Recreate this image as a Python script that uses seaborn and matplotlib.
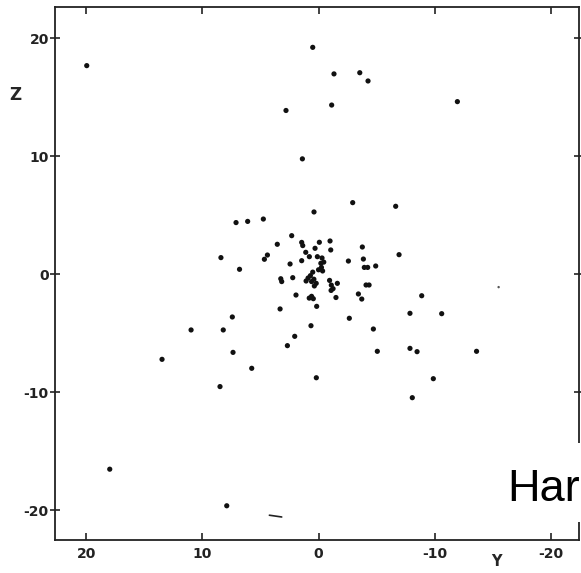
import pandas as pd
import matplotlib
matplotlib.use("Agg")
import matplotlib.pyplot as plt
from matplotlib.patches import Rectangle
import seaborn as sns

# point positions (Y horizontal, Z vertical)
y_vals = [19.95, 0.5, -1.33, -3.55, -4.26, 2.8, -1.13, -11.95, 1.39, -2.94,
          -6.64, 0.39, 7.1, 6.1, 4.75, 2.31, 3.55, 8.4, 4.4, 4.66,
          6.8, 1.45, 1.36, 1.1, 0.3, -0.07, -0.99, -1.05, 0.79, 1.45,
          2.45, 0.1, -0.3, -0.2, -0.45, -0.25, 0.0, -0.35, 0.5, 0.7,
          0.9, 0.6, 0.4, 1.07, 3.25, 3.17, 2.22, 0.36, 0.2, -0.95,
          -1.1, -1.25, -1.62, -2.57, -3.77, -3.86, -3.94, -4.23, -4.92, -6.93,
          -4.09, -4.35, 1.94, 0.8, 0.6, 0.45, 0.16, -1.08, -1.5, -3.43,
          -3.72, 3.31, -8.88, 0.65, -2.65, -7.87, -10.6, -4.72, 2.05, 2.68,
          -5.06, -7.87, -8.48, -13.6, 0.19, -9.88, -8.07, 7.42, 10.97, 8.2,
          7.36, 13.47, 5.75, 8.48, 17.97, 7.9]
z_vals = [17.7, 19.25, 17.0, 17.1, 16.4, 13.9, 14.36, 14.65, 9.8, 6.09,
          5.78, 5.3, 4.4, 4.5, 4.7, 3.29, 2.56, 1.43, 1.65, 1.29,
          0.44, 2.72, 2.45, 1.88, 2.22, 2.73, 2.84, 2.08, 1.51, 1.17,
          0.89, 1.51, 1.4, 0.95, 1.05, 0.6, 0.4, 0.3, 0.2, -0.1,
          -0.3, -0.6, -0.4, -0.55, -0.36, -0.6, -0.27, -0.97, -0.75, -0.5,
          -0.9, -1.2, -0.75, 1.14, 2.33, 1.31, 0.6, 0.6, 0.72, 1.68,
          -0.89, -0.89, -1.74, -2.0, -1.85, -2.05, -2.7, -1.35, -1.95, -1.65,
          -2.08, -2.92, -1.8, -4.34, -3.71, -3.29, -3.32, -4.62, -5.24, -6.03,
          -6.51, -6.26, -6.54, -6.51, -8.75, -8.83, -10.44, -3.6, -4.7, -4.7,
          -6.6, -7.19, -7.95, -9.5, -16.5, -19.6]

# faint specks of the scan
speck_y = [-15.5]
speck_z = [-1.07]
smudge_y = [4.23, 3.17]
smudge_z = [-20.4, -20.55]

ticks = [20, 10, 0, -10, -20]

df = pd.DataFrame({"Y": y_vals, "Z": z_vals})

sns.set_theme(style="ticks")
plt.rcParams["font.family"] = ["DejaVu Sans"]

fig = plt.figure(figsize=(5.81, 5.73), dpi=100)
ax = fig.add_axes([0.0947, 0.0576, 0.9019, 0.9302])

sns.scatterplot(data=df, x="Y", y="Z", ax=ax, color="#111111", s=14,
                edgecolor="none", linewidth=0)
ax.scatter(speck_y, speck_z, s=3, color="#555555", edgecolor="none")
ax.plot(smudge_y, smudge_z, color="#222222", lw=1.2)

ax.set_xlim(22.68, -22.42)
ax.set_ylim(-22.5, 22.67)
ax.set_xticks(ticks)
ax.set_yticks(ticks)
ax.set_xticklabels([str(t) for t in ticks], fontweight="bold", fontsize=10)
ax.set_yticklabels([str(t) for t in ticks], fontweight="bold", fontsize=10)

for side in ["top", "right", "bottom", "left"]:
    ax.spines[side].set_visible(True)
    ax.spines[side].set_linewidth(1.3)
    ax.spines[side].set_color("#222222")

ax.tick_params(axis="x", direction="in", length=5, width=1.2, top=True,
               bottom=True, labeltop=False, pad=5, colors="#222222")
ax.tick_params(axis="y", direction="inout", length=7, width=1.2, left=True,
               right=True, labelright=False, pad=1, colors="#222222")

ax.set_xlabel("Y", fontweight="bold", fontsize=10.5)
ax.xaxis.set_label_coords(0.843, -0.026)
ax.set_ylabel("Z", fontweight="bold", fontsize=12, rotation=0,
              va="center", ha="center")
ax.yaxis.set_label_coords(-0.076, 0.835)

# white slide box over the lower right corner, with the slide's title start
fig.add_artist(Rectangle((0.862, 0.089), 0.14, 0.138, transform=fig.transFigure,
                         facecolor="white", edgecolor="none", zorder=10))
fig.text(507 / 581, 1 - 501 / 573, "Har", fontsize=32.5,
         family="Liberation Sans", color="black", va="baseline", ha="left",
         zorder=11)

fig.savefig("out.png", dpi=100)
